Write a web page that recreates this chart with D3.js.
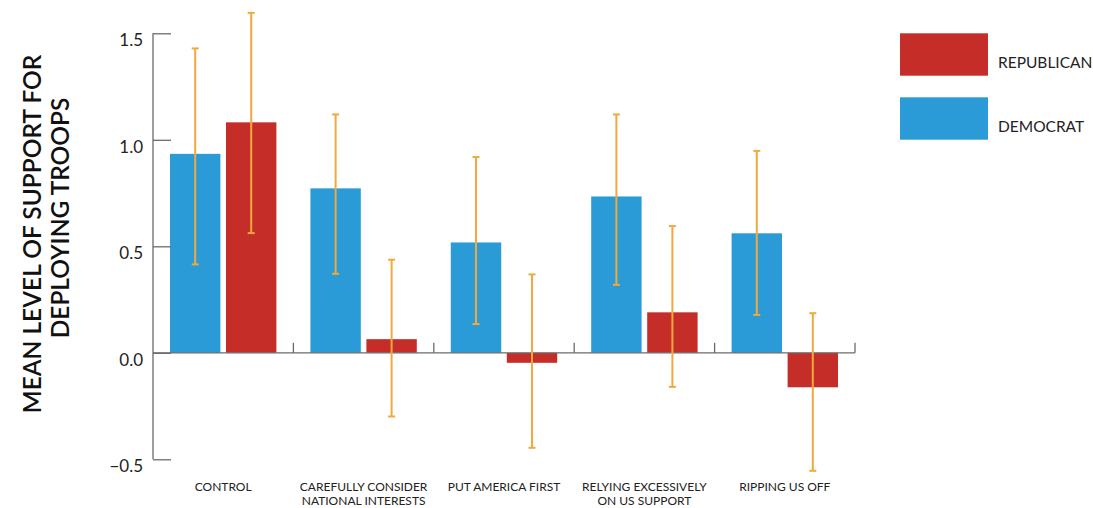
<!DOCTYPE html>
<html>
<head>
<meta charset="utf-8">
<script src="https://cdn.jsdelivr.net/npm/d3@7"></script>
<style>
  html, body { margin: 0; padding: 0; background: #fff; }
  svg { display: block; font-family: Lato, "Open Sans", sans-serif; }
</style>
</head>
<body>
<svg id="chart" width="1093" height="508"></svg>
<script>
// Treatment conditions and party groups
const categories = [
  ["CONTROL"],
  ["CAREFULLY CONSIDER", "NATIONAL INTERESTS"],
  ["PUT AMERICA FIRST"],
  ["RELYING EXCESSIVELY", "ON US SUPPORT"],
  ["RIPPING US OFF"]
];
const parties = ["DEMOCRAT", "REPUBLICAN"];

// Mean support and confidence bounds per condition
const democratMean  = [0.934, 0.772, 0.518, 0.734, 0.561];
const democratLow   = [0.415, 0.371, 0.135, 0.319, 0.178];
const democratHigh  = [1.429, 1.119, 0.919, 1.119, 0.948];
const republicanMean = [1.082, 0.064, -0.047, 0.190, -0.162];
const republicanLow  = [0.562, -0.299, -0.446, -0.160, -0.554];
const republicanHigh = [1.596, 0.437, 0.368, 0.595, 0.186];

const yTicks = [-0.5, 0.0, 0.5, 1.0, 1.5];
const yTitle = ["MEAN LEVEL OF SUPPORT FOR", "DEPLOYING TROOPS"];

const colors = { DEMOCRAT: "#2a9bd6", REPUBLICAN: "#c52e28" };
const errColor = "#f2a93b";
const axisColor = "#6b6b6b";

const svg = d3.select("#chart");

const left = 153, right = 855;
const y = d3.scaleLinear().domain([-0.5, 1.5]).range([459.3, 33.3]);
const catKeys = categories.map(c => c.join(" "));
const x0 = d3.scaleBand().domain(catKeys).range([left, right]).padding(0);
const x1 = d3.scaleBand().domain(parties).range([17, x0.bandwidth() - 17]).paddingInner(0.1).paddingOuter(0);

const rows = [];
catKeys.forEach((k, i) => {
  rows.push({ cat: k, party: "DEMOCRAT", mean: democratMean[i], lo: democratLow[i], hi: democratHigh[i] });
  rows.push({ cat: k, party: "REPUBLICAN", mean: republicanMean[i], lo: republicanLow[i], hi: republicanHigh[i] });
});

// Bars
svg.append("g").selectAll("rect").data(rows).join("rect")
  .attr("x", d => x0(d.cat) + x1(d.party))
  .attr("width", x1.bandwidth())
  .attr("y", d => y(Math.max(0, d.mean)))
  .attr("height", d => Math.abs(y(d.mean) - y(0)))
  .attr("fill", d => colors[d.party]);

// Y axis: line with inward ticks
const yAxis = svg.append("g").attr("transform", `translate(${left},0)`)
  .call(d3.axisRight(y).tickValues(yTicks).tickSize(18).tickFormat(""));
yAxis.select(".domain").attr("d", `M0,${y(1.5)}V${y(-0.5)}`);
yAxis.selectAll("line, path").attr("stroke", axisColor).attr("stroke-width", 1.3);

svg.append("g").selectAll("text").data(yTicks).join("text")
  .attr("x", 143)
  .attr("y", d => y(d) + 13)
  .attr("text-anchor", "end")
  .attr("font-size", 17)
  .attr("fill", "#222")
  .text(d => d3.format(".1f")(d));

// Zero baseline with category separators
const xAxis = svg.append("g").attr("transform", `translate(0,${y(0)})`)
  .call(d3.axisTop(x0).tickSize(0).tickFormat(""));
xAxis.select(".domain").attr("d", `M${left},0H${right}`).attr("stroke", axisColor).attr("stroke-width", 1.3);
svg.append("g").selectAll("line").data(catKeys).join("line")
  .attr("x1", d => x0(d) + x0.bandwidth())
  .attr("x2", d => x0(d) + x0.bandwidth())
  .attr("y1", y(0) - 10).attr("y2", y(0))
  .attr("stroke", axisColor).attr("stroke-width", 1.3);

// Error bars
const eb = svg.append("g").attr("stroke", errColor).attr("stroke-width", 2);
rows.forEach(d => {
  const cx = x0(d.cat) + x1(d.party) + x1.bandwidth() / 2;
  eb.append("line").attr("x1", cx).attr("x2", cx).attr("y1", y(d.hi)).attr("y2", y(d.lo));
  eb.append("line").attr("x1", cx - 3.5).attr("x2", cx + 3.5).attr("y1", y(d.hi)).attr("y2", y(d.hi));
  eb.append("line").attr("x1", cx - 3.5).attr("x2", cx + 3.5).attr("y1", y(d.lo)).attr("y2", y(d.lo));
});

// Category labels
const labels = svg.append("g").attr("font-size", 12).attr("fill", "#222").attr("text-anchor", "middle");
categories.forEach((lines, i) => {
  const cx = x0(catKeys[i]) + x0.bandwidth() / 2;
  const t = labels.append("text").attr("x", cx).attr("y", 491);
  lines.forEach((ln, j) => t.append("tspan").attr("x", cx).attr("dy", j === 0 ? 0 : 14).text(ln));
});

// Y title, two rotated lines
const titlePos = [[41, 234], [68.5, 218]];
yTitle.forEach((ln, j) => {
  svg.append("text")
    .attr("transform", `translate(${titlePos[j][0]},${titlePos[j][1]}) rotate(-90)`)
    .attr("text-anchor", "middle")
    .attr("font-size", 24.5)
    .attr("font-weight", 600)
    .attr("fill", "#111")
    .text(ln);
});

// Legend
const legendItems = ["REPUBLICAN", "DEMOCRAT"];
const lg = svg.append("g");
legendItems.forEach((p, i) => {
  lg.append("rect").attr("x", 900).attr("y", 33.3 + i * 64).attr("width", 88).attr("height", 42.4).attr("fill", colors[p]);
  lg.append("text").attr("x", 998).attr("y", 68 + i * 64).attr("font-size", 15.5).attr("fill", "#222").text(p);
});
</script>
</body>
</html>
